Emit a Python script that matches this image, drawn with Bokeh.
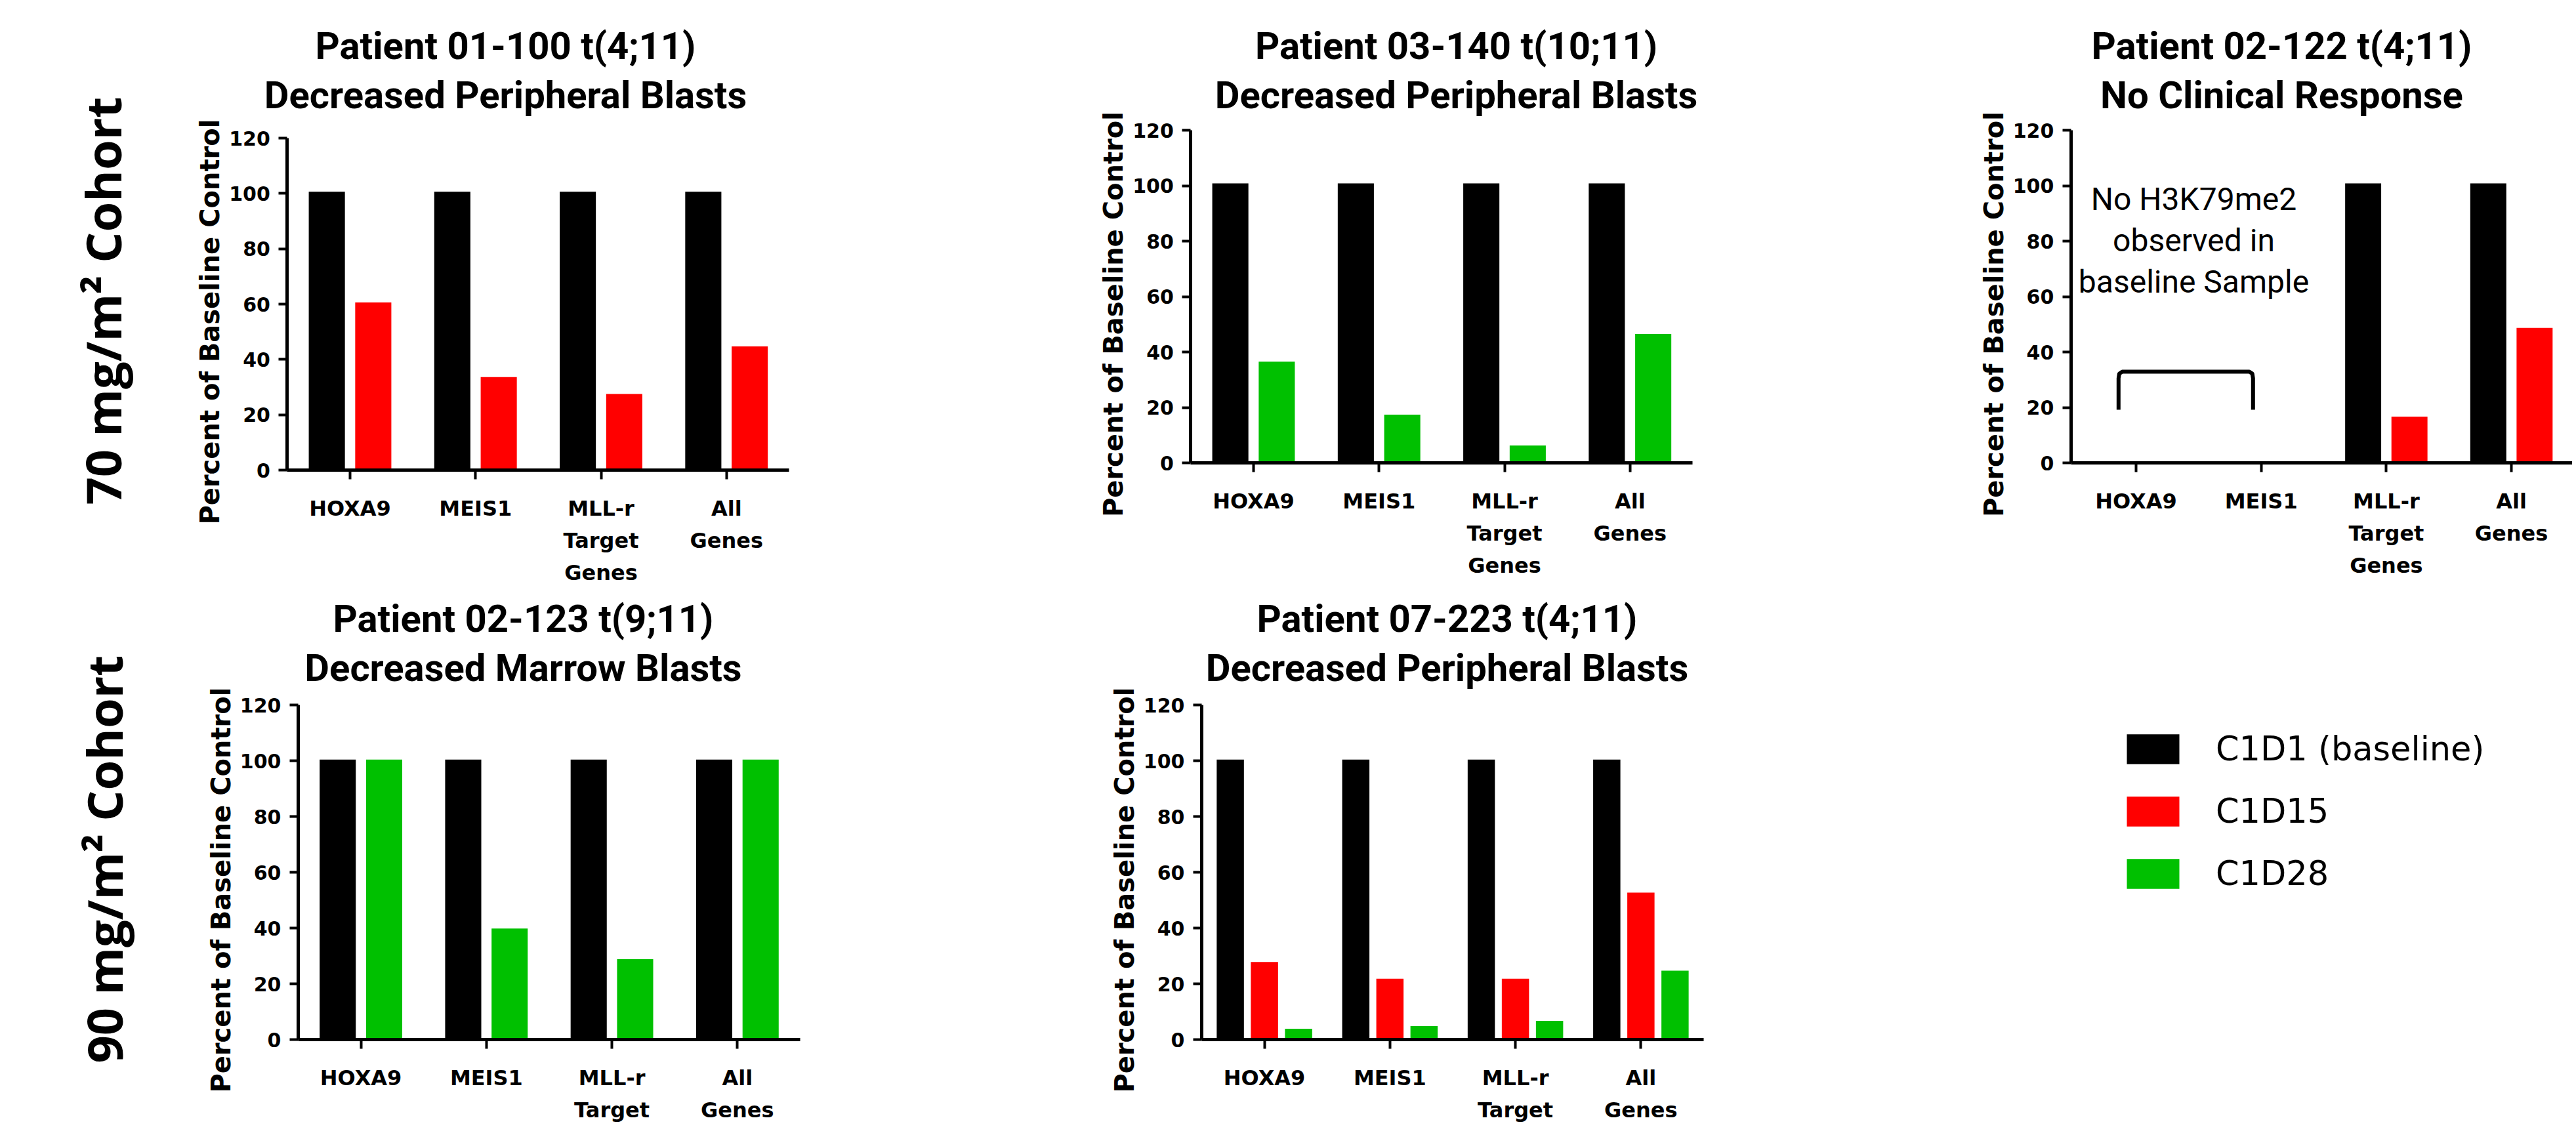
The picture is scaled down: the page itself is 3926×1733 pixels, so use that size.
import math
import numpy as np
from bokeh.plotting import figure
from bokeh.layouts import row, column
from bokeh.models import (ColumnDataSource, FixedTicker, Label, Range1d, LinearAxis,
                          Legend, LegendItem)
from bokeh.embed import file_html
from bokeh.resources import INLINE

NAN = float("nan")

# ---------------- data ----------------
CATEGORIES = ["HOXA9", "MEIS1", "MLL-r\nTarget\nGenes", "All\nGenes"]
SERIES = ["C1D1 (baseline)", "C1D15", "C1D28"]
SERIES_COLORS = ["#000000", "#FF0000", "#00C000"]
Y_TICKS = [0, 20, 40, 60, 80, 100, 120]
Y_LABEL = "Percent of Baseline Control"
COHORTS = ["70 mg/m\u00b2 Cohort", "90 mg/m\u00b2 Cohort"]

P01_100_TITLE = ["Patient 01-100 t(4;11)", "Decreased Peripheral Blasts"]
P01_100_C1D1 = [100.6, 100.6, 100.6, 100.6]
P01_100_C1D15 = [60.6, 33.6, 27.5, 44.7]

P03_140_TITLE = ["Patient 03-140 t(10;11)", "Decreased Peripheral Blasts"]
P03_140_C1D1 = [100.8, 100.8, 100.8, 100.8]
P03_140_C1D28 = [36.5, 17.4, 6.3, 46.5]

P02_122_TITLE = ["Patient 02-122 t(4;11)", "No Clinical Response"]
P02_122_C1D1 = [NAN, NAN, 100.8, 100.8]
P02_122_C1D15 = [NAN, NAN, 16.7, 48.7]
P02_122_NOTE = ["No H3K79me2", "observed in", "baseline Sample"]
P02_122_BRACKET_Y = [19.2, 32.9]   # bottom and top of the bracket (y units)

P02_123_TITLE = ["Patient 02-123 t(9;11)", "Decreased Marrow Blasts"]
P02_123_C1D1 = [100.4, 100.4, 100.4, 100.4]
P02_123_C1D28 = [100.4, 39.8, 28.8, 100.4]

P07_223_TITLE = ["Patient 07-223 t(4;11)", "Decreased Peripheral Blasts"]
P07_223_C1D1 = [100.4, 100.4, 100.4, 100.4]
P07_223_C1D15 = [27.8, 21.8, 21.8, 52.7]
P07_223_C1D28 = [3.9, 4.8, 6.7, 24.7]

# ---------------- style ----------------
TITLE_FONT = "Roboto"
AXIS_FONT = "DejaVu Sans"
TITLE_PX = 58
NOTE_PX = 48
MID = 0.342   # baseline -> middle of text box (Roboto), in em


def make_panel(fig_box, x0_px, x_unit_px, x_lo, y0_px, y120_px, series,
               title_lines, title_pos):
    """fig_box: (left, top, right, bottom) of the figure in page px.
    x0_px: x of category 0; x_unit_px: px per category;
    x_lo: left end of the x axis (category units);
    y0_px / y120_px: y of value 0 and 120."""
    fl, ft, fr, fb = fig_box
    W, H = fr - fl, fb - ft
    yu = (y0_px - y120_px) / 120.0
    xr = ((fl - x0_px) / x_unit_px, (fr - x0_px) / x_unit_px)
    yr = ((y0_px - fb) / yu, (y0_px - ft) / yu)

    def to_data(ix, iy):
        return (ix - x0_px) / x_unit_px, (y0_px - iy) / yu

    p = figure(width=W, height=H, x_range=Range1d(*xr), y_range=Range1d(*yr),
               output_backend="svg", toolbar_location=None,
               min_border_left=0, min_border_right=0,
               min_border_top=0, min_border_bottom=0)
    p.outline_line_color = None
    p.grid.visible = False
    p.background_fill_color = "white"
    p.border_fill_color = "white"

    # bars
    n = len(series)
    if n == 2:
        offsets, bw = [-0.185, 0.185], 0.288
    else:
        offsets, bw = [-0.272, 0.0, 0.272], 0.217
    base = np.arange(len(CATEGORIES), dtype=float)
    for (name, vals), off in zip(series, offsets):
        color = SERIES_COLORS[SERIES.index(name)]
        src = ColumnDataSource(dict(x=base + off, top=vals))
        p.vbar(x="x", top="top", bottom=0, width=bw, source=src,
               fill_color=color, line_color=None)

    x_hi = min(3.5, xr[1])
    # axes (drawn at fixed data positions)
    xa, ya = p.xaxis[0], p.yaxis[0]
    for ax in (xa, ya):
        ax.axis_line_width = 5
        ax.axis_line_color = "black"
        ax.major_tick_line_width = 4
        ax.major_tick_line_color = "black"
        ax.major_tick_in = 0
        ax.minor_tick_in = 0
        ax.minor_tick_out = 0
    xa.fixed_location = 0
    xa.bounds = (x_lo, x_hi)
    xa.ticker = FixedTicker(ticks=list(range(len(CATEGORIES))))
    xa.major_label_overrides = {i: c for i, c in enumerate(CATEGORIES)}
    xa.major_tick_out = 14
    xa.major_label_standoff = 25
    xa.major_label_text_font = AXIS_FONT
    xa.major_label_text_font_style = "bold"
    xa.major_label_text_font_size = "32px"
    xa.major_label_text_line_height = 1.29
    xa.major_label_text_color = "black"

    ya.fixed_location = x_lo
    ya.bounds = (0, 120)
    ya.ticker = FixedTicker(ticks=Y_TICKS)
    ya.major_tick_out = 13
    ya.major_label_standoff = 13
    ya.major_label_text_font = AXIS_FONT
    ya.major_label_text_font_style = "bold"
    ya.major_label_text_font_size = "30px"
    ya.major_label_text_color = "black"

    # axis title, centred slightly below the middle of the axis as in the source
    lab = LinearAxis(fixed_location=x_lo, bounds=(-12.8, 120),
                     ticker=FixedTicker(ticks=[]), axis_line_color=None,
                     major_tick_out=0, major_tick_in=0, minor_tick_out=0,
                     minor_tick_in=0, major_tick_line_color=None,
                     minor_tick_line_color=None,
                     axis_label=Y_LABEL, axis_label_standoff=95,
                     axis_label_text_font=AXIS_FONT,
                     axis_label_text_font_style="bold",
                     axis_label_text_font_size="40px",
                     axis_label_text_color="black")
    p.add_layout(lab, "left")

    # two-line title (positions given as text baselines)
    cx, b1, b2 = title_pos
    for line, by in zip(title_lines, (b1, b2)):
        tx, ty = to_data(cx, by - MID * TITLE_PX)
        p.add_layout(Label(x=tx, y=ty, text=line, text_align="center",
                           text_baseline="middle", text_font=TITLE_FONT,
                           text_font_style="bold", text_font_size=f"{TITLE_PX}px",
                           text_color="black"))
    return p, to_data


def add_cohort(p, to_data, text, ix, iy):
    tx, ty = to_data(ix, iy)
    p.add_layout(Label(x=tx, y=ty, text=text, angle=math.pi / 2,
                       text_align="center", text_baseline="middle",
                       text_font="Open Sans", text_font_style="bold",
                       text_font_size="74px", text_color="black"))


TOP = (0, 892)          # top row, y range (px)
BOT = (892, 1728)       # bottom row, y range (px)
COLS = (0, 1250, 2700, 3920)

p1, d1 = make_panel((COLS[0], TOP[0], COLS[1], TOP[1]), 533, 191.25, -0.5, 716, 210,
                    [(SERIES[0], P01_100_C1D1), (SERIES[1], P01_100_C1D15)],
                    P01_100_TITLE, (770, 89, 164))
add_cohort(p1, d1, COHORTS[0], 156, 458)

p2, d2 = make_panel((COLS[1], TOP[0], COLS[2], TOP[1]), 1910, 191.25, -0.5, 705, 198,
                    [(SERIES[0], P03_140_C1D1), (SERIES[2], P03_140_C1D28)],
                    P03_140_TITLE, (2219, 89, 164))

p3, d3 = make_panel((COLS[2], TOP[0], COLS[3], TOP[1]), 3255, 190.7, -0.52, 705, 198,
                    [(SERIES[0], P02_122_C1D1), (SERIES[1], P02_122_C1D15)],
                    P02_122_TITLE, (3477, 89, 164))
for line, by in zip(P02_122_NOTE, (319, 382, 445)):
    tx, ty = d3(3343, by - MID * NOTE_PX)
    p3.add_layout(Label(x=tx, y=ty, text=line, text_align="center",
                        text_baseline="middle", text_font=TITLE_FONT,
                        text_font_size=f"{NOTE_PX}px", text_color="black"))
yb, yt = P02_122_BRACKET_Y
xl, xr_ = 0 - 0.14, 1 - 0.065
bracket_x = [xl, xl, xl + 0.006, xl + 0.03, xr_ - 0.03, xr_ - 0.006, xr_, xr_]
bracket_y = [yb, yt - 2.4, yt - 0.7, yt, yt, yt - 0.7, yt - 2.4, yb]
p3.line(x=bracket_x, y=bracket_y, line_width=6, line_color="black",
        line_join="round")

p4, d4 = make_panel((COLS[0], BOT[0], COLS[1], BOT[1]), 549.6, 191.25, -0.5, 1584, 1074,
                    [(SERIES[0], P02_123_C1D1), (SERIES[2], P02_123_C1D28)],
                    P02_123_TITLE, (797, 962, 1037))
add_cohort(p4, d4, COHORTS[1], 158, 1309)

p5, d5 = make_panel((COLS[1], BOT[0], COLS[2], BOT[1]), 1926.6, 191.25, -0.5, 1584, 1074,
                    [(SERIES[0], P07_223_C1D1), (SERIES[1], P07_223_C1D15),
                     (SERIES[2], P07_223_C1D28)],
                    P07_223_TITLE, (2205, 962, 1037))

# legend panel
LW, LH = COLS[3] - COLS[2], BOT[1] - BOT[0]
leg = figure(width=LW, height=LH, x_range=Range1d(0, 1), y_range=Range1d(0, 1),
             x_axis_type=None, y_axis_type=None, output_backend="svg",
             toolbar_location=None, min_border_left=0, min_border_right=0,
             min_border_top=0, min_border_bottom=0)
leg.outline_line_color = None
leg.grid.visible = False
leg.background_fill_color = "white"
leg.border_fill_color = "white"
items = []
for name, color in zip(SERIES, SERIES_COLORS):
    r = leg.vbar(x=[0.5], top=[0.0], bottom=0.0, width=0.0, fill_color=color,
                 line_color=None)
    items.append(LegendItem(label=name, renderers=[r]))
legend = Legend(items=items, location=(3231 - COLS[2], BOT[1] - 1361),
                glyph_width=100, glyph_height=57, label_height=57,
                label_standoff=46, spacing=36, padding=0, margin=0,
                border_line_color=None, background_fill_alpha=0,
                label_text_font=AXIS_FONT, label_text_font_size="51px",
                label_text_color="black")
leg.add_layout(legend)

layout = column(row(p1, p2, p3), row(p4, p5, leg))
open("out.html", "w").write(file_html(layout, INLINE))
